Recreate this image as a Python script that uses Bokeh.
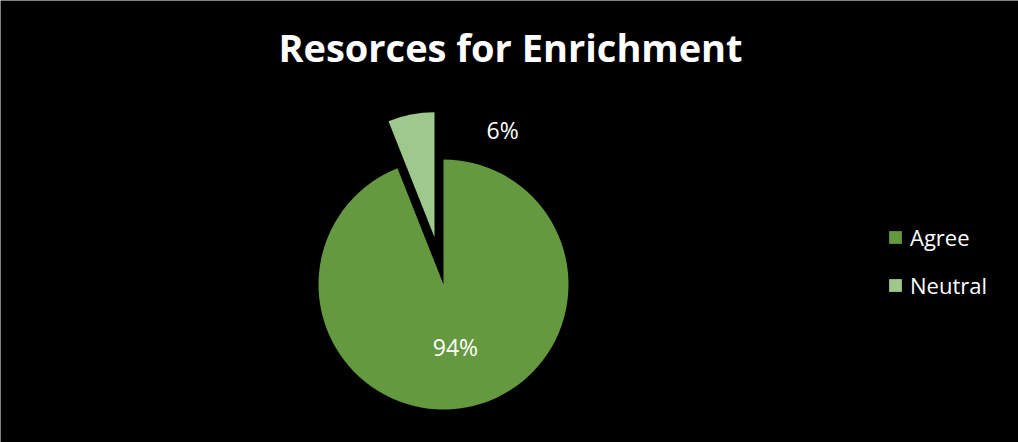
import math
import re
from bokeh.plotting import figure
from bokeh.models import Legend, LegendItem
from bokeh.core.properties import value
from bokeh.embed import file_html
from bokeh.resources import INLINE

# ---- data ----
title_text = "Resorces for Enrichment"
categories = ["Agree", "Neutral"]
values = [94, 6]
colors = ["#64993f", "#9fc88c"]

W, H = 1018, 442
p = figure(width=W, height=H, x_range=(0, W), y_range=(0, H),
           output_backend="svg", toolbar_location=None, min_border=0,
           background_fill_color="black", border_fill_color="black",
           outline_line_color=None)
p.axis.visible = False
p.grid.visible = False

cx, cy, r = 443, 158, 125
explode = [0, 48]

total = sum(values)
angles = [v / total * 2 * math.pi for v in values]
# Neutral: from 12 o'clock anticlockwise; Agree: the rest
neutral_start = math.pi / 2
neutral_end = neutral_start + angles[1]
starts = [neutral_end, neutral_start]
ends = [math.pi / 2 + 2 * math.pi, neutral_end]

xs, ys, mids = [], [], []
for i in range(len(values)):
    mid = (starts[i] + ends[i]) / 2
    mids.append(mid)
    xs.append(cx + explode[i] * math.cos(mid))
    ys.append(cy + explode[i] * math.sin(mid))

renderers = []
for i in range(len(values)):
    rr = p.wedge(x=xs[i], y=ys[i], radius=r, start_angle=starts[i],
                 end_angle=ends[i], direction="anticlock",
                 fill_color=colors[i], line_color=None)
    renderers.append(rr)

# percentage labels
lx = [cx + 0.51 * r * math.cos(mids[0]), cx + 165 * math.cos(math.radians(69))]
ly = [cy + 0.51 * r * math.sin(mids[0]), cy + 165 * math.sin(math.radians(69))]
labels = [f"{round(v / total * 100)}%" for v in values]
p.text(x=lx, y=ly, text=labels, text_color="white",
       text_font=value("Open Sans"), text_font_size="23px",
       text_align="center", text_baseline="middle")

# title
p.text(x=[510], y=[H - 46], text=[title_text], text_color="white",
       text_font=value("Open Sans"), text_font_size="38px",
       text_font_style="bold", text_align="center", text_baseline="middle")

legend = Legend(items=[LegendItem(label=categories[i], renderers=[renderers[i]])
                       for i in range(len(values))],
                location=(887, 142), orientation="vertical",
                glyph_width=16, glyph_height=16, label_standoff=7,
                label_text_color="white", label_text_font="Open Sans",
                label_text_font_size="22px", spacing=18, padding=0, margin=0,
                background_fill_alpha=0, border_line_color=None)
p.add_layout(legend)

html = file_html(p, INLINE)
html = re.sub(r"<body([^>]*)>", r'<body\1 style="background:#000000;overflow:hidden">', html, count=1)
open("out.html", "w").write(html)
